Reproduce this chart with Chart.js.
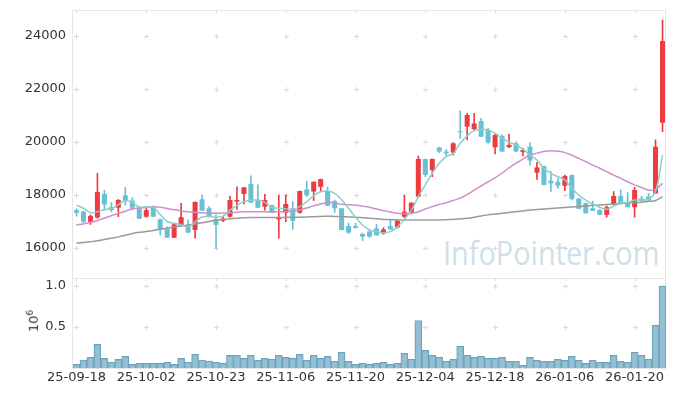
<!DOCTYPE html>
<html>
<head>
<meta charset="utf-8">
<script src="https://cdn.jsdelivr.net/npm/chart.js@4.4.1/dist/chart.umd.min.js"></script>
<style>
  html, body { margin: 0; padding: 0; background: #fff; }
  #wrap { position: relative; width: 677px; height: 396px; overflow: hidden; font-family: 'DejaVu Sans', sans-serif; }
  #priceChart { position: absolute; left: 0; top: 0; }
  #volChart { position: absolute; left: 0; top: 270px; }
  .watermark { position: absolute; left: 443px; top: 236px; font-family: 'Open Sans', sans-serif; font-size: 33px; line-height: 33px; color: #cfdfe8; white-space: nowrap; transform: scaleX(0.875); transform-origin: left top; }
  .unit { position: absolute; left: 33px; top: 321px; transform: translate(-50%, -50%) rotate(-90deg); font-size: 13px; color: #333; white-space: nowrap; }
  .unit sup { font-size: 9px; }
</style>
</head>
<body>
<div id="wrap">
  <div class="watermark">InfoPointer.com</div>
  <canvas id="priceChart" width="677" height="279"></canvas>
  <canvas id="volChart" width="677" height="126"></canvas>
  <div class="unit">10<sup>6</sup></div>
</div>
<script>
const dates = [
  '25-09-18', '25-09-19', '25-09-22', '25-09-23', '25-09-24', '25-09-25', '25-09-26', '25-09-29', '25-09-30', '25-10-01',
  '25-10-02', '25-10-10', '25-10-13', '25-10-14', '25-10-15', '25-10-16', '25-10-17', '25-10-20', '25-10-21', '25-10-22',
  '25-10-23', '25-10-24', '25-10-27', '25-10-28', '25-10-29', '25-10-30', '25-10-31', '25-11-03', '25-11-04', '25-11-05',
  '25-11-06', '25-11-07', '25-11-10', '25-11-11', '25-11-12', '25-11-13', '25-11-14', '25-11-17', '25-11-18', '25-11-19',
  '25-11-20', '25-11-21', '25-11-24', '25-11-25', '25-11-26', '25-11-27', '25-11-28', '25-12-01', '25-12-02', '25-12-03',
  '25-12-04', '25-12-05', '25-12-08', '25-12-09', '25-12-10', '25-12-11', '25-12-12', '25-12-15', '25-12-16', '25-12-17',
  '25-12-18', '25-12-19', '25-12-22', '25-12-23', '25-12-24', '25-12-26', '25-12-29', '25-12-30', '26-01-02', '26-01-05',
  '26-01-06', '26-01-07', '26-01-08', '26-01-09', '26-01-12', '26-01-13', '26-01-14', '26-01-15', '26-01-16', '26-01-19',
  '26-01-20', '26-01-21', '26-01-22', '26-01-23', '26-01-26'
]

const opens = [
  17430, 17370, 16990, 17150, 18040, 17540, 17520, 17990, 17790, 17540,
  17180, 17560, 17080, 16740, 16390, 16840, 16870, 16680, 17840, 17500,
  17090, 17030, 17180, 17750, 18040, 18420, 17790, 17560, 17620, 17080,
  17330, 17500, 17330, 18210, 18130, 18310, 18150, 17770, 17500, 16830,
  16830, 16530, 16620, 16740, 16550, 16830, 16780, 17180, 17330, 17940,
  19360, 18940, 19800, 19640, 19600, 20410, 20580, 20490, 20790, 20450,
  19800, 20230, 19800, 19950, 19620, 19820, 18840, 19090, 18540, 18500,
  18350, 18750, 17870, 17690, 17500, 17430, 17250, 17660, 17960, 17710,
  17540, 17870, 17940, 18060, 20730
]
const highs = [
  17480, 17390, 17250, 18820, 18180, 17720, 17830, 18290, 17900, 17560,
  17560, 17590, 17100, 16800, 16900, 17690, 17060, 17740, 18000, 17560,
  17250, 17180, 17960, 18310, 18290, 18720, 18380, 18030, 17620, 18000,
  18000, 17750, 18150, 18530, 18500, 18600, 18310, 17810, 17500, 16930,
  16930, 16560, 16680, 16890, 16770, 17090, 17060, 18000, 17710, 19470,
  19360, 19360, 19800, 19720, 19980, 21170, 21080, 21080, 20890, 20520,
  20290, 20270, 20300, 20010, 19760, 19980, 19230, 19090, 18880, 18630,
  18750, 18760, 17870, 17690, 17770, 17460, 17590, 18130, 18190, 18090,
  18290, 17960, 18060, 20080, 24600
]
const lows = [
  17200, 16960, 16890, 17120, 17430, 17370, 17180, 17620, 17430, 17100,
  17160, 17180, 16490, 16390, 16390, 16840, 16580, 16370, 17410, 17160,
  15990, 16990, 17160, 17460, 17660, 17710, 17520, 17430, 17330, 16370,
  16990, 16700, 17310, 17940, 17790, 18150, 17590, 17340, 16680, 16550,
  16740, 16280, 16400, 16480, 16520, 16700, 16750, 17150, 17310, 17910,
  18690, 18690, 19600, 19470, 19510, 20140, 20080, 20440, 20200, 19950,
  19550, 19630, 19800, 19630, 19470, 19130, 18590, 18380, 18130, 18250,
  18160, 17810, 17480, 17310, 17400, 17250, 17160, 17620, 17660, 17540,
  17160, 17750, 17750, 18060, 20390
]
const closes = [
  17330, 16990, 17210, 18110, 17640, 17430, 17810, 17790, 17520, 17110,
  17430, 17180, 16680, 16390, 16890, 17160, 16580, 17740, 17410, 17210,
  16870, 17110, 17810, 17810, 18290, 17710, 17520, 17810, 17330, 17160,
  17660, 17030, 18150, 17990, 18500, 18600, 17590, 17500, 16680, 16580,
  16760, 16430, 16430, 16480, 16700, 16700, 17030, 17370, 17710, 19360,
  18760, 19360, 19640, 19570, 19950, 20370, 21020, 20700, 20200, 19980,
  20260, 19640, 19890, 19640, 19700, 19300, 19040, 18380, 18440, 18350,
  18720, 17850, 17480, 17310, 17400, 17250, 17540, 17960, 17690, 17540,
  18190, 17790, 17790, 19820, 23810
]

const ma5 = [
  17620, 17500, 17340, 17370, 17450, 17480, 17640, 17790, 17720, 17550,
  17560, 17530, 17260, 17000, 16930, 16880, 16810, 16990, 17170, 17200,
  17160, 17200, 17430, 17600, 17750, 17800, 17810, 17720, 17540, 17500,
  17480, 17460, 17560, 17750, 17970, 18120, 18150, 18060, 17820, 17500,
  17160, 16870, 16680, 16620, 16580, 16620, 16800, 17080, 17430, 17940,
  18380, 18820, 19200, 19450, 19570, 19950, 20230, 20430, 20480, 20450,
  20330, 20150, 20000, 19890, 19720, 19510, 19320, 19010, 18820, 18690,
  18570, 18250, 18000, 17810, 17660, 17540, 17460, 17580, 17690, 17720,
  17810, 17810, 17840, 18130, 19510
]
const ma20 = [
  16870, 16910, 16960, 17040, 17130, 17220, 17300, 17390, 17480, 17510,
  17530, 17560, 17540, 17490, 17440, 17400, 17370, 17350, 17330, 17320,
  17310, 17320, 17330, 17350, 17370, 17370, 17370, 17370, 17370, 17370,
  17370, 17400, 17430, 17510, 17590, 17660, 17710, 17700, 17650, 17630,
  17620, 17580, 17540, 17470, 17410, 17360, 17310, 17290, 17310, 17370,
  17470, 17560, 17640, 17710, 17790, 17880, 18020, 18180, 18340, 18500,
  18650, 18830, 19020, 19200, 19360, 19510, 19580, 19640, 19670, 19650,
  19600, 19500, 19380, 19260, 19130, 19010, 18880, 18750, 18630, 18500,
  18380, 18280, 18190, 18210, 18440
]
const ma60 = [
  16180, 16210, 16240, 16270, 16320, 16370, 16420, 16480, 16550, 16590,
  16620, 16660, 16710, 16750, 16790, 16830, 16870, 16910, 16950, 17000,
  17050, 17080, 17100, 17120, 17140, 17150, 17150, 17150, 17150, 17150,
  17160, 17160, 17160, 17170, 17180, 17190, 17200, 17190, 17180, 17170,
  17160, 17140, 17120, 17100, 17080, 17070, 17060, 17060, 17060, 17060,
  17060, 17060, 17060, 17070, 17080, 17100, 17120, 17160, 17210, 17250,
  17280, 17310, 17340, 17370, 17400, 17430, 17450, 17470, 17490, 17510,
  17530, 17550, 17570, 17590, 17610, 17620, 17640, 17660, 17680, 17700,
  17710, 17730, 17760, 17790, 17940
]

const volumes = [
  45000, 98000, 130000, 290000, 118000, 73000, 106000, 142000, 45000, 57000,
  57000, 57000, 57000, 70000, 45000, 118000, 70000, 167000, 98000, 85000,
  70000, 57000, 155000, 155000, 118000, 155000, 94000, 118000, 106000, 155000,
  130000, 118000, 167000, 94000, 155000, 118000, 142000, 82000, 192000, 82000,
  45000, 57000, 45000, 57000, 70000, 45000, 57000, 179000, 106000, 580000,
  216000, 155000, 130000, 82000, 106000, 265000, 155000, 130000, 142000, 118000,
  118000, 130000, 82000, 82000, 33000, 130000, 94000, 82000, 82000, 106000,
  94000, 142000, 94000, 57000, 94000, 70000, 70000, 155000, 82000, 70000,
  192000, 155000, 106000, 520000, 1000000
]

const priceTicks = [16000, 18000, 20000, 22000, 24000]
const volTicks = [500000, 1000000]
const labelEvery = 10

const upColor = '#ee3b40'
const downColor = '#69c0d6'
const candleColors = closes.map((c, i) => c >= opens[i] ? upColor : downColor)

Chart.defaults.font.family = "'DejaVu Sans', sans-serif"
Chart.defaults.font.size = 13
Chart.defaults.color = '#333'

// light frame plus small "+" marks where the grid lines would cross
const frame = {
  id: 'frame',
  beforeDatasetsDraw (chart) {
    const { ctx, chartArea: a, scales } = chart
    ctx.save()
    ctx.strokeStyle = '#e6e6e6'
    ctx.lineWidth = 1
    ctx.strokeRect(Math.round(a.left) - 0.5, Math.round(a.top) + 0.5, Math.round(a.right - a.left), Math.round(a.bottom - a.top))
    ctx.strokeStyle = '#dadada'
    ctx.beginPath()
    for (let i = 0; i < dates.length; i += labelEvery) {
      const x = Math.round(scales.x.getPixelForValue(i)) + 0.5
      ctx.moveTo(x, a.top + 1)
      ctx.lineTo(x, a.top + 3)
      scales.y.ticks.forEach(t => {
        const y = Math.round(scales.y.getPixelForValue(t.value)) + 0.5
        ctx.moveTo(x - 2.5, y)
        ctx.lineTo(x + 2.5, y)
        ctx.moveTo(x, y - 2.5)
        ctx.lineTo(x, y + 2.5)
      })
    }
    ctx.stroke()
    ctx.restore()
  }
}

const noPad = s => {
  s.width = 73
  s.paddingTop = 0
  s.paddingBottom = 0
}

const maLine = (label, data, color) => ({
  type: 'line',
  label,
  data,
  borderColor: color,
  borderWidth: 1.5,
  pointRadius: 0,
  tension: 0.4,
  order: 0
})

new Chart(document.getElementById('priceChart'), {
  type: 'bar',
  data: {
    labels: dates,
    datasets: [
      maLine('MA5', ma5, '#8ccfc7'),
      maLine('MA20', ma20, '#cf8ecb'),
      maLine('MA60', ma60, '#9a9a9a'),
      {
        label: 'wick',
        data: lows.map((l, i) => [l, highs[i]]),
        backgroundColor: candleColors,
        barThickness: 1,
        grouped: false,
        order: 2
      },
      {
        label: 'body',
        data: opens.map((o, i) => [o, closes[i]]),
        backgroundColor: candleColors,
        barPercentage: 0.72,
        categoryPercentage: 1,
        minBarLength: 1,
        grouped: false,
        order: 1
      }
    ]
  },
  options: {
    responsive: false,
    animation: false,
    layout: { autoPadding: false, padding: { top: 10, right: 11, left: 0, bottom: 1 } },
    plugins: { legend: { display: false }, tooltip: { enabled: false } },
    scales: {
      x: { display: false, offset: true },
      y: {
        min: 14868,
        max: 24981,
        afterFit: noPad,
        afterBuildTicks: s => { s.ticks = priceTicks.map(v => ({ value: v })) },
        ticks: { padding: 7, callback: v => String(v) },
        grid: { display: false, drawTicks: false },
        border: { display: false }
      }
    }
  },
  plugins: [frame]
})

new Chart(document.getElementById('volChart'), {
  type: 'bar',
  data: {
    labels: dates,
    datasets: [{
      label: 'volume',
      data: volumes,
      backgroundColor: 'rgba(138,184,206,0.9)',
      borderColor: '#6aa2bd',
      borderWidth: { top: 1, left: 1, right: 1, bottom: 0 },
      barPercentage: 1,
      categoryPercentage: 1
    }]
  },
  options: {
    responsive: false,
    animation: false,
    layout: { autoPadding: false, padding: { top: 8, right: 11, left: 0, bottom: 0 } },
    plugins: { legend: { display: false }, tooltip: { enabled: false } },
    scales: {
      x: {
        offset: true,
        afterFit: s => { s.height = 28 },
        ticks: {
          autoSkip: false,
          maxRotation: 0,
          padding: 2,
          callback: (v, i) => i % labelEvery === 0 ? dates[i] : ''
        },
        grid: { display: false, drawTicks: false },
        border: { display: false }
      },
      y: {
        min: 0,
        max: 1098000,
        afterFit: noPad,
        afterBuildTicks: s => { s.ticks = volTicks.map(v => ({ value: v })) },
        ticks: { padding: 7, callback: v => (v / 1e6).toFixed(1) },
        grid: { display: false, drawTicks: false },
        border: { display: false }
      }
    }
  },
  plugins: [frame]
})
</script>
</body>
</html>
